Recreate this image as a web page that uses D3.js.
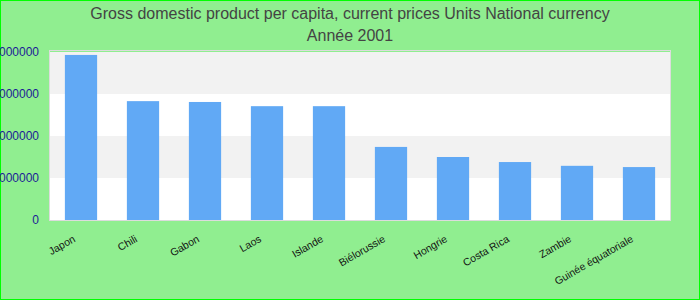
<!DOCTYPE html>
<html><head><meta charset="utf-8">
<script src="https://cdn.jsdelivr.net/npm/d3@7"></script>
<style>body{margin:0;background:#fff}svg{display:block}</style>
</head><body>
<svg id="c" width="700" height="300"></svg>
<script>
const titleLines = ["Gross domestic product per capita, current prices Units National currency", "Année 2001"];
const categories = ["Japon","Chili","Gabon","Laos","Islande","Biélorussie","Hongrie","Costa Rica","Zambie","Guinée équatoriale"];
const values = [3930000, 2830000, 2810000, 2710000, 2710000, 1740000, 1500000, 1380000, 1290000, 1260000];
const yTicks = [0, 1000000, 2000000, 3000000, 4000000];

const svg = d3.select("#c");
const W = 700, H = 300;
const m = {left: 50, right: 30, top: 52, bottom: 80};
svg.append("rect").attr("x",0.5).attr("y",0.5).attr("width",W-1).attr("height",H-1)
  .attr("fill","#90ee90").attr("stroke","#00ff00").attr("stroke-width",1);

const x = d3.scaleBand().domain(categories).range([m.left, W-m.right]).paddingInner(0.48).paddingOuter(0.24);
const y = d3.scaleLinear().domain([0, 4000000]).range([H-m.bottom, m.top]);

const g = svg.append("g");
g.append("rect").attr("x",m.left).attr("y",m.top).attr("width",W-m.left-m.right).attr("height",H-m.top-m.bottom).attr("fill","#fff");
for (let i=0;i<yTicks.length-1;i++){
  if (i%2===1) g.append("rect").attr("x",m.left).attr("y",y(yTicks[i+1])).attr("width",W-m.left-m.right)
    .attr("height",y(yTicks[i])-y(yTicks[i+1])).attr("fill","#f2f2f2");
}
g.append("rect").attr("x",m.left-0.5).attr("y",m.top-1.5).attr("width",W-m.left-m.right+1).attr("height",H-m.top-m.bottom+2)
  .attr("fill","none").attr("stroke","#dcdcdc").attr("stroke-width",1);

g.selectAll(".bar").data(values).join("rect").attr("class","bar")
  .attr("x",(d,i)=>x(categories[i])).attr("width",x.bandwidth())
  .attr("y",d=>y(d)).attr("height",d=>y(0)-y(d)).attr("fill","#61a9f5");

const ya = d3.axisLeft(y).tickValues(yTicks).tickFormat(d3.format("d")).tickSize(0).tickPadding(0);
const yg = svg.append("g").attr("transform",`translate(39,0)`).call(ya);
yg.select(".domain").remove();
yg.selectAll("text").attr("fill","#1c1c96").style("font-family","Liberation Sans, Arial, sans-serif").style("font-size","12px");

const xa = d3.axisBottom(x).tickSize(0).tickPadding(0);
const xg = svg.append("g").attr("transform",`translate(0,${H-m.bottom})`).call(xa);
xg.select(".domain").remove();
xg.selectAll("text").attr("text-anchor","end").attr("dy",0)
  .attr("transform","translate(-5,21) rotate(-30)")
  .attr("fill","#111").style("font-family","Liberation Sans, Arial, sans-serif").style("font-size","10.5px");

svg.selectAll(".title").data(titleLines).join("text").attr("class","title")
  .attr("x",350).attr("y",(d,i)=>19+i*22).attr("text-anchor","middle")
  .attr("fill","#444").style("font-family","Liberation Sans, Arial, sans-serif").style("font-size","16px").text(d=>d);
</script>
</body></html>
